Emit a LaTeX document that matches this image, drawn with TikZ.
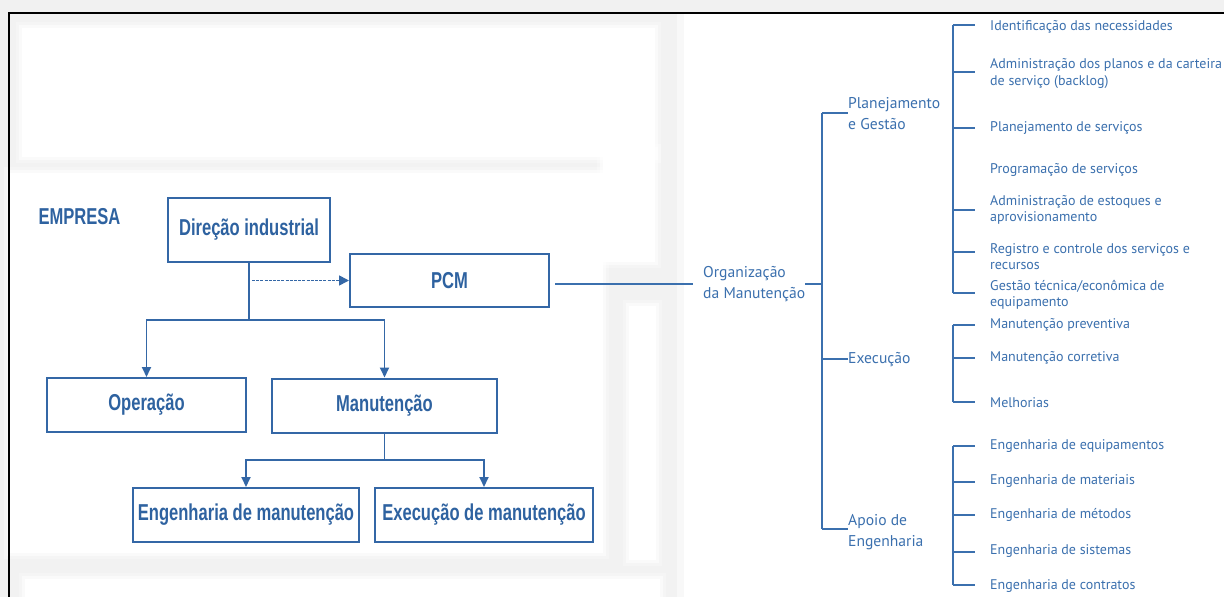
\documentclass[tikz,border=0pt]{standalone}
\usepackage{fontspec}
\usetikzlibrary{arrows.meta}
\setmainfont{Liberation Sans}
\newfontfamily\boxfont[FakeStretch=0.72]{Liberation Sans}
\newfontfamily\listfont{PT Sans}

\definecolor{boxblue}{HTML}{3467A6}
\definecolor{txtblue}{HTML}{2E62A0}
\definecolor{listblue}{HTML}{3B70AE}
\definecolor{paper}{HTML}{F1F1F1}
\definecolor{panel}{HTML}{F2F2F2}

% white card with a soft edge
\newcommand\softcard[4]{%
  \fill[white,opacity=0.30] ({#1-6},{#2-6}) rectangle ({#3+6},{#4+6});
  \fill[white,opacity=0.55] ({#1-3},{#2-3}) rectangle ({#3+3},{#4+3});
  \fill[white] (#1,#2) rectangle (#3,#4);
}

\tikzset{
  orgbox/.style={draw=boxblue, line width=2pt, text=txtblue, inner sep=0pt,
    font=\boxfont\bfseries\fontsize{23}{26}\selectfont},
  link/.style={draw=boxblue, line width=1.9pt},
  arr/.style={link, -{Triangle[width=9pt,length=10pt]}},
  dasharr/.style={draw=boxblue, line width=1.7pt, dash pattern=on 3pt off 1.2pt,
    -{Triangle[width=10pt,length=10pt]}},
  thin/.style={draw=listblue, line width=1.4pt},
  item/.style={anchor=west, inner sep=0pt, align=left, text=listblue,
    font=\listfont\fontsize{14}{16.5}\selectfont},
  head/.style={anchor=west, inner sep=0pt, align=left, text=listblue,
    font=\listfont\fontsize{15.6}{21}\selectfont},
}

\begin{document}
\begin{tikzpicture}[x=1pt,y=-1pt]
\useasboundingbox (0,0) rectangle (1224,597);

% page background and frame area
\fill[paper] (0,0) rectangle (1224,597);
\fill[white] (9,13) rectangle (1224,597);

% grey panel behind the company chart
\fill[panel,opacity=0.5] (9,13) rectangle (684,597);
\fill[panel] (9,13) rectangle (677,597);
\softcard{22}{28}{655}{157}
\softcard{603}{150}{655}{262}
\softcard{10}{173}{603}{553}
\softcard{629}{306}{656}{560}
\softcard{25}{579}{660}{605}

% frame
\draw[black, line width=2.4pt] (1226,13) -- (9,13) -- (9,599);

% company chart
\node[text=txtblue, font=\boxfont\bfseries\fontsize{23}{26}\selectfont, anchor=west]
  (emp) at (35,217) {EMPRESA};

\node[orgbox, minimum width=162pt, minimum height=64pt] (dir) at (249,230) {Direção industrial};
\node[orgbox, minimum width=199pt, minimum height=53pt] (pcm) at (449.5,280.5) {PCM};
\node[orgbox, minimum width=199pt, minimum height=54pt] (op)  at (146.5,405) {Operação};
\node[orgbox, minimum width=225pt, minimum height=54pt] (man) at (384.5,405.5) {Manutenção};
\node[orgbox, minimum width=226pt, minimum height=54pt] (eng) at (246,515) {Engenharia de manutenção};
\node[orgbox, minimum width=218pt, minimum height=54pt] (exe) at (484,515) {Execução de manutenção};

\coordinate (j1) at (249,320);
\coordinate (j2) at (384.5,460);

\draw[link] (dir.south) -- (j1);
\draw[arr] (j1) -| (op.north);
\draw[arr] (j1) -| (man.north);
\draw[dasharr] ([xshift=3pt]dir.south |- pcm.west) -- (pcm.west);
\draw[link] (man.south) -- (j2);
\draw[arr] (j2) -| (eng.north);
\draw[arr] (j2) -| (exe.north);

% maintenance organisation tree
\node[head] (org) at (703,284) {Organização\\da Manutenção};
\draw[thin] ([xshift=5pt]pcm.east |- org.west) -- ([xshift=-10pt]org.west);

\coordinate (mtop) at (822,113);
\coordinate (mmid) at (822,359);
\coordinate (mbot) at (822,529);
\draw[thin] (org.east |- 0,284) -- (822,284);
\draw[thin] (mtop) -- (mbot);

\node[head] (pg) at (848,114) {Planejamento\\e Gestão};
\node[head] (ex) at (848,360) {Execução};
\node[head] (ap) at (848,532) {Apoio de\\Engenharia};
\draw[thin] (mtop) -- (mtop -| pg.west);
\draw[thin] (mmid) -- (mmid -| ex.west);
\draw[thin] (mbot) -- (mbot -| ap.west);

% planning and management items
\node[item] (p1) at (990,27)    {Identificação das necessidades};
\node[item] (p2) at (990,73.5)  {Administração dos planos e da carteira\\de serviço (backlog)};
\node[item] (p3) at (990,128)   {Planejamento de serviços};
\node[item] (p4) at (990,170)   {Programação de serviços};
\node[item] (p5) at (990,210)   {Administração de estoques e\\aprovisionamento};
\node[item] (p6) at (990,256.5) {Registro e controle dos serviços e\\recursos};
\node[item] (p7) at (990,295)   {Gestão técnica/econômica de\\equipamento};

\coordinate (pa) at (953,25);
\coordinate (pb) at (953,72);
\coordinate (pc) at (953,128);
\coordinate (pd) at (953,210);
\coordinate (pe) at (953,252);
\coordinate (pf) at (953,293);
\draw[thin] (pa) -- (pf);
\foreach \c in {pa,pb,pc,pd,pe,pf} \draw[thin] (\c) -- ++(22,0);

% execution items
\node[item] (e1) at (990,325) {Manutenção preventiva};
\node[item] (e2) at (990,358) {Manutenção corretiva};
\node[item] (e3) at (990,403) {Melhorias};
\coordinate (ea) at (953,325);
\coordinate (eb) at (953,358);
\coordinate (ec) at (953,402);
\draw[thin] (ea) -- (ec);
\foreach \c in {ea,eb,ec} \draw[thin] (\c) -- ++(22,0);

% engineering support items
\node[item] (a1) at (990,446) {Engenharia de equipamentos};
\node[item] (a2) at (990,481) {Engenharia de materiais};
\node[item] (a3) at (990,515) {Engenharia de métodos};
\node[item] (a4) at (990,551) {Engenharia de sistemas};
\node[item] (a5) at (990,586) {Engenharia de contratos};
\coordinate (aa) at (953,446);
\coordinate (ab) at (953,482);
\coordinate (ac) at (953,515);
\coordinate (ad) at (953,552);
\coordinate (ae) at (953,585);
\draw[thin] (aa) -- (ae);
\foreach \c in {aa,ab,ac,ad,ae} \draw[thin] (\c) -- ++(22,0);
\end{tikzpicture}
\end{document}
